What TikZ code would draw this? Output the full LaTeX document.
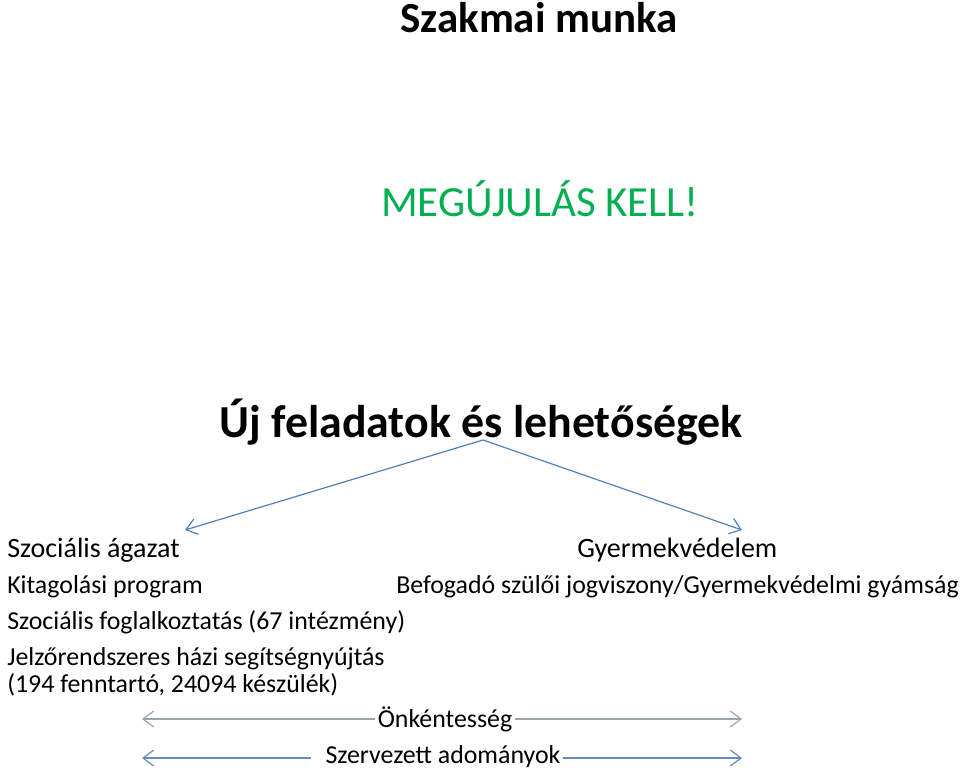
\documentclass[tikz,border=0pt]{standalone}
\usepackage{fontspec}
\setmainfont{Carlito}
\usetikzlibrary{arrows.meta}
\definecolor{arrblue}{RGB}{79,129,189}
\definecolor{bandgray}{RGB}{155,163,175}
\definecolor{bandblue}{RGB}{105,137,188}
\definecolor{titlegreen}{RGB}{0,176,80}
\begin{document}
\begin{tikzpicture}[x=0.75pt,y=-0.75pt,
  txt/.style={inner sep=0pt,anchor=base west,font=\fontsize{19.4}{21}\selectfont},
  head/.style={inner sep=0pt,anchor=base west,font=\fontsize{21}{23}\selectfont},
  bandlbl/.style={inner sep=2pt,anchor=base,font=\fontsize{19.4}{21}\selectfont},
  conn/.style={draw=arrblue,line width=0.9pt,-{Straight Barb[length=8pt,width=12pt]}},
  bandl/.style={line width=0.9pt,{Straight Barb[length=8pt,width=12pt]}-},
  bandr/.style={line width=0.9pt,-{Straight Barb[length=8pt,width=12pt]}}
]
\useasboundingbox (0,0) rectangle (960,771);
\node[inner sep=0pt,anchor=base,font=\fontsize{32.2}{35}\selectfont\bfseries] (title) at (539,32) {Szakmai munka};
\node[inner sep=0pt,anchor=base,font=\fontsize{32.2}{35}\selectfont,text=titlegreen] (renew) at (540,216) {MEGÚJULÁS KELL!};
\node[inner sep=0pt,anchor=base,font=\fontsize{34.4}{37}\selectfont\bfseries] (uj) at (481,437) {Új feladatok és lehetőségek};
\coordinate (top) at (483,440);
\node[head] (szoc) at (7,557) {Szociális ágazat};
\node[txt] (kit) at (7,593) {Kitagolási program};
\node[txt] (fogl) at (7,629) {Szociális foglalkoztatás (67 intézmény)};
\node[txt] (jelz) at (7,665) {Jelzőrendszeres házi segítségnyújtás};
\node[txt] (jelz2) at (7,692) {(194 fenntartó, 24094 készülék)};
\node[head] (gyv) at (577,557) {Gyermekvédelem};
\node[txt] (bef) at (396,593) {Befogadó szülői jogviszony/Gyermekvédelmi gyámság};
\coordinate (lt) at (185,530);
\coordinate (rt) at (742,530);
\draw[conn] (top) -- (lt);
\draw[conn] (top) -- (rt);
\node[bandlbl] (onk) at (445,727) {Önkéntesség};
\node[bandlbl] (szerv) at (443,763) {Szervezett adományok};
\coordinate (o1) at (142,719);
\coordinate (o2) at (742,719);
\coordinate (s1) at (142,758);
\coordinate (s2) at (742,758);
\draw[bandl,draw=bandgray] (o1) -- (onk.west |- o1);
\draw[bandr,draw=bandgray] (onk.east |- o2) -- (o2);
\draw[bandl,draw=bandblue] (s1) -- ([xshift=-9pt]szerv.west |- s1);
\draw[bandr,draw=bandblue] (szerv.east |- s2) -- (s2);
\end{tikzpicture}
\end{document}
